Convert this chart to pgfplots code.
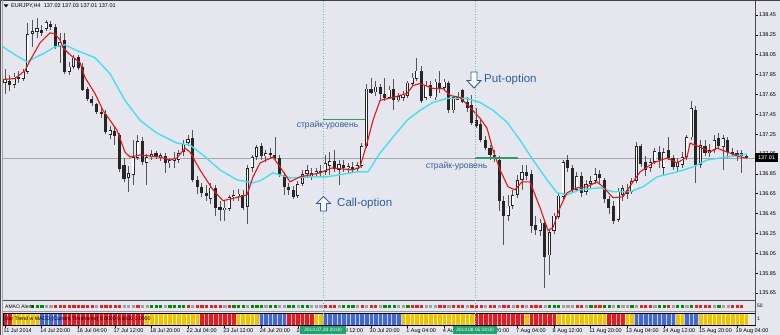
\documentclass[border=0pt]{standalone}
\usepackage{fontspec}
\setmainfont{Liberation Sans}
\usepackage{pgfplots}
\pgfplotsset{compat=1.18}
\usepackage{pgfplotstable}

\definecolor{bg}{RGB}{230,230,238}
\definecolor{wick}{RGB}{85,85,85}
\definecolor{mared}{RGB}{235,20,20}
\definecolor{macyan}{RGB}{64,226,240}
\definecolor{strike}{RGB}{40,160,100}
\definecolor{vline}{RGB}{110,190,175}
\definecolor{txtblue}{RGB}{40,95,160}
\definecolor{barred}{RGB}{234,24,32}
\definecolor{baryel}{RGB}{240,196,0}
\definecolor{barblue}{RGB}{66,104,216}
\definecolor{dotgreen}{RGB}{0,140,0}
\definecolor{dotred}{RGB}{240,30,30}
\definecolor{dotgrey}{RGB}{160,160,165}
\definecolor{datebox}{RGB}{30,165,110}
\newcommand{\sm}{\fontsize{5.5}{6.5}\selectfont}

\pgfplotstableread{
i o h l c
0 137.77 137.91 137.66 137.80
1 137.79 137.85 137.69 137.75
2 137.75 137.87 137.71 137.83
3 137.83 137.89 137.77 137.81
4 137.81 137.91 137.79 137.88
5 137.88 138.37 137.86 138.26
6 138.26 138.40 138.13 138.29
7 138.28 138.42 138.22 138.32
8 138.30 138.35 138.24 138.27
9 138.31 138.40 138.29 138.38
10 138.36 138.39 138.30 138.33
11 138.33 138.36 138.11 138.13
12 138.13 138.27 137.97 138.18
13 138.20 138.27 137.86 137.88
14 137.88 137.98 137.85 137.93
15 137.93 138.05 137.91 138.02
16 138.03 138.05 137.90 137.92
17 137.93 137.97 137.68 137.70
18 137.70 137.73 137.58 137.60
19 137.60 137.64 137.53 137.56
20 137.55 137.56 137.45 137.47
21 137.47 137.51 137.41 137.45
22 137.45 137.49 137.25 137.27
23 137.24 137.33 137.20 137.29
24 137.28 137.32 137.14 137.23
25 137.24 137.26 136.87 136.90
26 136.94 137.01 136.77 136.80
27 136.81 136.93 136.67 136.86
28 136.84 137.19 136.74 137.02
29 137.01 137.24 136.99 137.18
30 137.18 137.22 136.94 136.97
31 136.96 137.05 136.74 137.02
32 137.02 137.09 136.99 137.05
33 137.06 137.08 137.00 137.02
34 137.01 137.06 136.98 137.04
35 137.03 137.06 136.86 136.96
36 136.96 137.01 136.91 136.99
37 136.98 137.07 136.91 137.01
38 136.99 137.09 136.96 137.06
39 137.07 137.19 137.03 137.15
40 137.16 137.24 137.13 137.20
41 137.21 137.29 136.77 136.79
42 136.79 136.83 136.65 136.72
43 136.72 136.76 136.62 136.66
44 136.66 136.74 136.58 136.63
45 136.60 136.76 136.55 136.71
46 136.71 136.74 136.43 136.51
47 136.52 136.58 136.38 136.49
48 136.49 136.58 136.38 136.51
49 136.50 136.64 136.48 136.62
50 136.62 136.69 136.58 136.64
51 136.63 136.70 136.58 136.65
52 136.64 136.69 136.49 136.51
53 136.52 136.94 136.35 136.91
54 136.91 137.04 136.87 137.02
55 137.02 137.14 136.99 137.12
56 137.13 137.16 136.99 137.03
57 137.03 137.09 136.97 137.06
58 137.06 137.11 137.01 137.04
59 137.04 137.22 136.99 137.01
60 137.01 137.04 136.82 136.84
61 136.84 136.87 136.64 136.72
62 136.72 136.76 136.64 136.69
63 136.69 136.73 136.60 136.62
64 136.63 136.78 136.61 136.75
65 136.75 136.89 136.73 136.85
66 136.85 136.94 136.81 136.89
67 136.82 136.91 136.79 136.86
68 136.86 136.91 136.82 136.88
69 136.88 136.94 136.83 136.86
70 136.87 137.04 136.84 136.96
71 136.93 137.07 136.84 136.98
72 136.98 137.09 136.87 136.90
73 136.89 136.99 136.74 136.95
74 136.94 136.99 136.87 136.91
75 136.91 136.96 136.86 136.93
76 136.92 136.97 136.87 136.90
77 136.90 136.97 136.87 136.94
78 136.93 137.16 136.91 137.13
79 137.13 137.76 137.11 137.71
80 137.71 137.82 137.65 137.67
81 137.67 137.79 137.64 137.73
82 137.73 137.76 137.59 137.66
83 137.66 137.82 137.59 137.62
84 137.62 137.74 137.60 137.70
85 137.70 137.81 137.49 137.59
86 137.59 137.67 137.57 137.63
87 137.62 137.69 137.59 137.65
88 137.64 137.79 137.62 137.77
89 137.76 137.87 137.74 137.82
90 137.81 138.02 137.79 137.89
91 137.89 137.94 137.56 137.58
92 137.62 137.79 137.60 137.74
93 137.75 137.79 137.62 137.64
94 137.62 137.81 137.59 137.78
95 137.77 137.89 137.66 137.72
96 137.72 137.81 137.69 137.78
97 137.77 137.79 137.46 137.49
98 137.49 137.64 137.46 137.62
99 137.63 137.67 137.59 137.60
100 137.69 137.71 137.56 137.57
101 137.57 137.63 137.47 137.51
102 137.54 137.64 137.34 137.36
103 137.39 137.51 137.31 137.33
104 137.35 137.39 137.17 137.19
105 137.19 137.23 137.09 137.11
106 137.11 137.14 136.99 137.04
107 137.04 137.09 136.97 137.01
108 136.99 137.03 136.48 136.58
109 136.58 136.63 136.13 136.43
110 136.43 136.64 136.38 136.53
111 136.53 136.69 136.50 136.64
112 136.64 136.84 136.61 136.79
113 136.79 136.94 136.69 136.87
114 136.87 136.94 136.79 136.83
115 136.85 136.89 136.26 136.33
116 136.34 136.43 136.23 136.28
117 136.28 136.40 136.23 136.36
118 136.36 136.40 135.70 136.01
119 136.03 136.28 135.83 136.26
120 136.28 136.46 136.25 136.43
121 136.42 136.66 136.40 136.63
122 136.62 136.99 136.58 136.97
123 136.99 137.04 136.87 136.91
124 136.91 136.94 136.66 136.69
125 136.69 136.87 136.67 136.83
126 136.83 136.87 136.62 136.66
127 136.67 136.79 136.64 136.75
128 136.75 136.83 136.71 136.78
129 136.78 136.91 136.75 136.85
130 136.85 136.89 136.76 136.81
131 136.79 136.81 136.56 136.60
132 136.60 136.63 136.45 136.51
133 136.53 136.58 136.35 136.38
134 136.39 136.71 136.37 136.68
135 136.64 136.74 136.58 136.71
136 136.69 136.75 136.60 136.65
137 136.67 136.81 136.65 136.78
138 136.78 137.17 136.76 137.13
139 137.13 137.15 136.92 136.95
140 136.97 137.03 136.83 136.89
141 136.91 137.00 136.87 136.97
142 136.97 137.11 136.95 137.08
143 137.07 137.13 136.91 136.99
144 136.91 137.11 136.83 137.07
145 137.09 137.22 136.99 137.01
146 137.01 137.04 136.89 136.92
147 136.92 137.01 136.87 136.97
148 136.94 137.07 136.91 137.02
149 137.02 137.24 136.99 137.22
150 137.22 137.59 137.19 137.51
151 137.49 137.53 136.76 136.94
152 136.94 137.19 136.91 137.14
153 137.13 137.19 137.03 137.06
154 137.06 137.15 137.02 137.09
155 137.09 137.24 137.06 137.19
156 137.21 137.26 137.11 137.13
157 137.12 137.24 136.89 137.21
158 137.19 137.22 137.01 137.07
159 137.07 137.11 137.02 137.05
160 137.05 137.09 136.98 137.06
161 137.06 137.09 136.86 137.03
162 137.03 137.05 137.00 137.01
}\candles

\begin{document}
\begin{tikzpicture}
\useasboundingbox (0pt,0pt) rectangle (780pt,335pt);
\fill[bg] (0pt,0pt) rectangle (780pt,335pt);

% ---------------- main price panel ----------------
\begin{axis}[
  at={(3pt,35pt)}, anchor=south west, scale only axis,
  width=752pt, height=297pt,
  xmin=-0.437, xmax=163.93, ymin=135.58, ymax=138.571,
  axis line style={draw=none},
  xtick=\empty,
  ytick={135.65,135.85,136.05,136.25,136.45,136.65,136.85,137.05,137.25,137.45,137.65,137.85,138.05,138.25,138.45},
  ytick pos=right, yticklabel pos=right,
  tick align=outside, major tick length=3pt,
  ytick style={draw=black, line width=0.5pt},
  yticklabel style={font=\sm, anchor=west, inner sep=0pt, xshift=1pt},
  scaled y ticks=false,
  /pgf/number format/fixed, /pgf/number format/fixed zerofill,
  /pgf/number format/precision=2, /pgf/number format/assume math mode=true,
]
% current price line
\addplot[draw=black!35, line width=0.6pt, mark=none] coordinates {(-0.437,137.01) (163.93,137.01)};
% wicks
\addplot[draw=none, mark=none, forget plot,
  error bars/.cd, y dir=both, y explicit, error mark=none,
  error bar style={draw=wick, line width=0.8pt}]
  table[x=i, y expr={(\thisrow{h}+\thisrow{l})/2}, y error expr={(\thisrow{h}-\thisrow{l})/2}] {\candles};
% body outline / bear fill
\addplot[draw=none, mark=none, forget plot,
  error bars/.cd, y dir=both, y explicit, error mark=none,
  error bar style={draw=black!85, line width=3.1pt, line cap=butt}]
  table[x=i, y expr={(\thisrow{o}+\thisrow{c})/2}, y error expr={max(abs(\thisrow{c}-\thisrow{o})/2,0.005)}] {\candles};
% bull inner
\addplot[draw=none, mark=none, forget plot,
  error bars/.cd, y dir=both, y explicit, error mark=none,
  error bar style={draw=white, line width=1.7pt, line cap=butt}]
  table[x=i, y expr={(\thisrow{o}+\thisrow{c})/2}, y error expr={max((\thisrow{c}-\thisrow{o})/2-0.007,0)}] {\candles};
% slow MA (cyan)
\addplot[color=macyan, line width=1.4pt, mark=none] coordinates {
(-0.44,138.13) (2.19,138.05) (4.81,137.98) (6.56,138.02) (8.74,138.07) (10.93,138.13) (13.11,138.15) (15.30,138.10) (19.67,138.02) (22.95,137.86) (26.23,137.59) (29.51,137.39) (33.22,137.26) (37.60,137.16) (40.44,137.14) (43.28,137.04) (46.99,136.89) (50.71,136.79) (54.21,136.76) (55.74,136.78) (58.58,136.86) (62.30,136.81) (66.67,136.82) (70.38,136.82) (76.94,136.87) (79.34,136.87) (81.97,137.06) (84.81,137.22) (87.87,137.39) (90.71,137.49) (93.55,137.57) (96.61,137.61) (100.98,137.61) (103.83,137.57) (106.67,137.49) (109.73,137.37) (112.57,137.19) (115.41,136.99) (118.47,136.79) (120.66,136.66) (122.84,136.64) (125.68,136.69) (130.05,136.71) (132.90,136.67) (136.61,136.67) (139.45,136.72) (142.51,136.82) (146.89,136.87) (150.38,136.92) (153.44,136.99) (157.81,137.02) (162.19,137.05)};
% fast MA (red)
\addplot[color=mared, line width=1.1pt, mark=none] coordinates {
(-0.44,137.80) (2.19,137.81) (4.37,137.89) (5.46,137.99) (7.65,138.17) (9.84,138.27) (10.93,138.26) (12.02,138.20) (12.68,138.12) (14.21,138.05) (16.39,137.97) (17.49,137.82) (19.67,137.66) (21.42,137.49) (22.95,137.39) (24.48,137.29) (26.23,137.07) (27.32,137.02) (29.51,137.04) (33.88,137.02) (36.07,136.99) (37.60,137.01) (39.34,137.11) (40.44,137.07) (42.62,136.89) (45.46,136.69) (47.65,136.58) (51.37,136.62) (52.90,136.64) (54.21,136.82) (55.74,136.96) (58.58,137.02) (60.11,136.92) (62.30,136.77) (64.48,136.82) (68.85,136.86) (71.48,136.91) (76.07,136.89) (77.60,136.92) (79.13,137.16) (80.44,137.39) (81.97,137.59) (84.81,137.62) (87.87,137.66) (89.18,137.74) (90.71,137.76) (93.55,137.71) (95.74,137.71) (97.27,137.64) (99.45,137.62) (101.64,137.52) (103.83,137.41) (105.36,137.31) (106.67,137.09) (108.20,136.89) (109.95,136.72) (111.48,136.69) (113.00,136.77) (114.75,136.77) (116.94,136.51) (118.69,136.28) (119.78,136.31) (121.31,136.51) (122.84,136.66) (125.03,136.71) (127.21,136.72) (129.40,136.77) (130.71,136.72) (132.90,136.61) (135.08,136.62) (137.27,136.77) (138.80,136.87) (141.64,136.96) (144.70,137.01) (146.89,136.96) (149.07,137.02) (149.73,137.16) (151.91,137.12) (154.10,137.07) (155.63,137.11) (157.81,137.07) (160.66,137.02) (162.19,137.01)};
% strike levels
\addplot[color=strike, line width=1.4pt, mark=none] coordinates {(69.5,137.40) (78.7,137.40)};
\addplot[color=strike, line width=1.4pt, mark=none] coordinates {(102.7,137.01) (112.1,137.01)};
\end{axis}

% ---------------- alerts dots panel ----------------
\begin{axis}[
  at={(3pt,24pt)}, anchor=south west, scale only axis,
  width=752pt, height=10pt,
  xmin=-0.437, xmax=163.93, ymin=0, ymax=1, hide axis,
]
\addplot[only marks, mark=square*, mark size=1.1pt, color=dotgreen] coordinates {
(6,0.45)(7,0.45)(8,0.45)(32,0.45)(33,0.45)(34,0.45)(36,0.45)(37,0.45)(38,0.45)(39,0.45)(50,0.45)(51,0.45)(52,0.45)(54,0.45)(55,0.45)(56,0.45)(58,0.45)(59,0.45)(62,0.45)(63,0.45)(65,0.45)(66,0.45)(74,0.45)(75,0.45)(76,0.45)(83,0.45)(84,0.45)(85,0.45)(88,0.45)(119,0.45)(120,0.45)(121,0.45)(128,0.45)(131,0.45)(132,0.45)(134,0.45)(137,0.45)(143,0.45)(144,0.45)(147,0.45)(148,0.45)(150,0.45)(156,0.45)};
\addplot[only marks, mark=square*, mark size=1.1pt, color=dotred] coordinates {
(11,0.45)(12,0.45)(13,0.45)(14,0.45)(15,0.45)(16,0.45)(17,0.45)(18,0.45)(19,0.45)(21,0.45)(22,0.45)(23,0.45)(24,0.45)(25,0.45)(29,0.45)(40,0.45)(42,0.45)(43,0.45)(44,0.45)(45,0.45)(46,0.45)(47,0.45)(49,0.45)(70,0.45)(71,0.45)(72,0.45)(78,0.45)(80,0.45)(81,0.45)(89,0.45)(90,0.45)(91,0.45)(95,0.45)(96,0.45)(98,0.45)(99,0.45)(100,0.45)(102,0.45)(103,0.45)(104,0.45)(106,0.45)(107,0.45)(109,0.45)(110,0.45)(112,0.45)(113,0.45)(115,0.45)(116,0.45)(117,0.45)(125,0.45)(126,0.45)(129,0.45)(130,0.45)(139,0.45)(140,0.45)(141,0.45)(145,0.45)(151,0.45)(152,0.45)(153,0.45)(154,0.45)(159,0.45)(160,0.45)(161,0.45)};
\addplot[only marks, mark=square*, mark size=1.1pt, color=dotgrey] coordinates {
(9,0.45)(10,0.45)(20,0.45)(26,0.45)(27,0.45)(28,0.45)(30,0.45)(31,0.45)(35,0.45)(41,0.45)(48,0.45)(53,0.45)(57,0.45)(60,0.45)(61,0.45)(64,0.45)(67,0.45)(68,0.45)(69,0.45)(73,0.45)(77,0.45)(79,0.45)(82,0.45)(86,0.45)(87,0.45)(92,0.45)(93,0.45)(94,0.45)(97,0.45)(101,0.45)(105,0.45)(108,0.45)(111,0.45)(114,0.45)(118,0.45)(122,0.45)(123,0.45)(124,0.45)(127,0.45)(133,0.45)(135,0.45)(136,0.45)(138,0.45)(142,0.45)(146,0.45)(149,0.45)(155,0.45)(157,0.45)(158,0.45)};
\end{axis}

% ---------------- bar trend panel ----------------
\begin{axis}[
  at={(3pt,10pt)}, anchor=south west, scale only axis,
  width=752pt, height=12pt,
  xmin=-0.437, xmax=163.93, ymin=0, ymax=1,
  axis line style={draw=none}, ytick=\empty,
  xtick={0,8,...,160},
  xticklabels={11 Jul 2014,14 Jul 20:00,16 Jul 04:00,17 Jul 12:00,18 Jul 20:00,22 Jul 04:00,23 Jul 12:00,24 Jul 20:00,28 Jul 04:00,29 Jul 12:00,30 Jul 20:00,1 Aug 04:00,4 Aug 12:00,5 Aug 20:00,7 Aug 04:00,8 Aug 12:00,11 Aug 20:00,13 Aug 04:00,14 Aug 12:00,15 Aug 20:00,19 Aug 04:00},
  xtick pos=bottom, tick align=outside, major tick length=2.5pt,
  xtick style={draw=black, line width=0.5pt},
  xticklabel style={font=\sm, anchor=north west, inner sep=0pt, xshift=-1.5pt, yshift=-0.8pt},
]
\addplot[ybar, bar width=1, bar shift=0pt, fill=barred, draw=white!70!barred, line width=0.35pt] coordinates {
(0,1)(1,1)(13,1)(14,1)(15,1)(16,1)(17,1)(18,1)(19,1)(20,1)(21,1)(22,1)(23,1)(24,1)(25,1)(26,1)(27,1)(28,1)(29,1)(30,1)(43,1)(44,1)(45,1)(46,1)(47,1)(48,1)(49,1)(50,1)(62,1)(63,1)(64,1)(65,1)(66,1)(67,1)(103,1)(104,1)(105,1)(106,1)(107,1)(108,1)(109,1)(110,1)(111,1)(112,1)(113,1)(115,1)(116,1)(117,1)(118,1)(119,1)(120,1)(132,1)(133,1)(134,1)(135,1)};
\addplot[ybar, bar width=1, bar shift=0pt, fill=baryel, draw=white!70!baryel, line width=0.35pt] coordinates {
(2,1)(3,1)(4,1)(5,1)(6,1)(7,1)(31,1)(32,1)(33,1)(34,1)(35,1)(36,1)(37,1)(38,1)(39,1)(40,1)(41,1)(42,1)(51,1)(52,1)(53,1)(54,1)(55,1)(68,1)(69,1)(87,1)(88,1)(89,1)(90,1)(91,1)(92,1)(93,1)(94,1)(95,1)(96,1)(97,1)(98,1)(99,1)(100,1)(101,1)(102,1)(114,1)(121,1)(122,1)(123,1)(124,1)(125,1)(126,1)(127,1)(128,1)(129,1)(130,1)(131,1)(136,1)(137,1)(147,1)(148,1)(152,1)(153,1)(154,1)(155,1)(156,1)(157,1)(158,1)(159,1)(160,1)(161,1)(162,1)};
\addplot[ybar, bar width=1, bar shift=0pt, fill=barblue, draw=white!70!barblue, line width=0.35pt] coordinates {
(8,1)(9,1)(10,1)(11,1)(12,1)(56,1)(57,1)(58,1)(59,1)(60,1)(61,1)(70,1)(71,1)(72,1)(73,1)(74,1)(75,1)(76,1)(77,1)(78,1)(79,1)(80,1)(81,1)(82,1)(83,1)(84,1)(85,1)(86,1)(138,1)(139,1)(140,1)(141,1)(142,1)(143,1)(144,1)(145,1)(146,1)(149,1)(150,1)(151,1)};
\end{axis}

% ---------------- frames ----------------
\draw[black!70, line width=1.6pt] (3pt,34.6pt) -- (755pt,34.6pt);
\draw[black!40, line width=0.6pt] (3pt,24pt) -- (755pt,24pt);
\draw[black, line width=0.8pt] (3pt,10pt) rectangle (755pt,22pt);
\draw[black!70, line width=1pt] (755pt,10pt) -- (755pt,335pt);
\draw[black!75, line width=1pt] (0pt,334.5pt) -- (780pt,334.5pt);
\draw[black!70, line width=0.8pt] (0.6pt,0pt) -- (0.6pt,335pt);
\draw[black!35, line width=0.6pt] (2.6pt,0pt) -- (2.6pt,335pt);

% vertical dotted time markers
\draw[vline, line width=0.9pt, dash pattern=on 1pt off 1.6pt] (323.5pt,334pt) -- (323.5pt,9pt);
\draw[vline, line width=0.9pt, dash pattern=on 1pt off 1.6pt] (475pt,334pt) -- (475pt,9pt);

% title
\fill[black] (3.6pt,330.6pt) -- (8.4pt,330.6pt) -- (6pt,327.6pt) -- cycle;
\node[anchor=west, inner sep=0pt, font=\sm] at (11pt,329pt) {EURJPY,H4\ \ 137.02 137.03 137.01 137.01};

% indicator texts
\node[anchor=west, inner sep=0pt, font=\fontsize{5}{6}\selectfont] at (5pt,28.5pt) {AMAO Alerts};
\node[anchor=west, inner sep=0pt, font=\fontsize{5.2}{6}\selectfont] at (5pt,16pt) {Bar Trend w MACD (Current Timeframe) 0.0000 0.0000 1.0000};
\node[anchor=west, inner sep=0pt, font=\fontsize{5}{6}\selectfont] at (757pt,29pt) {50};
\node[anchor=west, inner sep=0pt, font=\fontsize{5}{6}\selectfont] at (757pt,16pt) {1};

% price box
\fill[black] (755pt,173pt) rectangle (778pt,182pt);
\node[text=white, inner sep=0pt, font=\sm] at (766.5pt,177.5pt) {137.01};

% annotation texts
\node[text=txtblue, inner sep=0pt, font=\fontsize{8.6}{10}\selectfont] at (327.5pt,210pt) {страйк-уровень};
\node[text=txtblue, inner sep=0pt, font=\fontsize{8.6}{10}\selectfont] at (456.5pt,169pt) {страйк-уровень};
\node[text=txtblue, anchor=west, inner sep=0pt, font=\fontsize{11.5}{13}\selectfont] at (484pt,255pt) {Put-option};
\node[text=txtblue, anchor=west, inner sep=0pt, font=\fontsize{11.5}{13}\selectfont] at (337pt,131pt) {Call-option};
% hollow arrows
\draw[txtblue, line width=0.9pt, fill=white, line join=miter] (471pt,263pt) -- (477pt,263pt) -- (477pt,254.5pt) -- (481pt,254.5pt) -- (474pt,247pt) -- (467pt,254.5pt) -- (471pt,254.5pt) -- cycle;
\draw[txtblue, line width=0.9pt, fill=white, line join=miter] (320.5pt,124pt) -- (326.5pt,124pt) -- (326.5pt,131.5pt) -- (330.5pt,131.5pt) -- (323.5pt,138.5pt) -- (316.5pt,131.5pt) -- (320.5pt,131.5pt) -- cycle;

% date boxes
\node[fill=datebox, text=white, inner sep=0pt, minimum width=46pt, minimum height=8pt, font=\fontsize{4.8}{5}\selectfont] at (323pt,5pt) {2014.07.28 20:00};
\node[fill=datebox, text=white, inner sep=0pt, minimum width=44pt, minimum height=8pt, font=\fontsize{4.8}{5}\selectfont] at (475pt,5pt) {2014.08.05 04:00};
\end{tikzpicture}
\end{document}
